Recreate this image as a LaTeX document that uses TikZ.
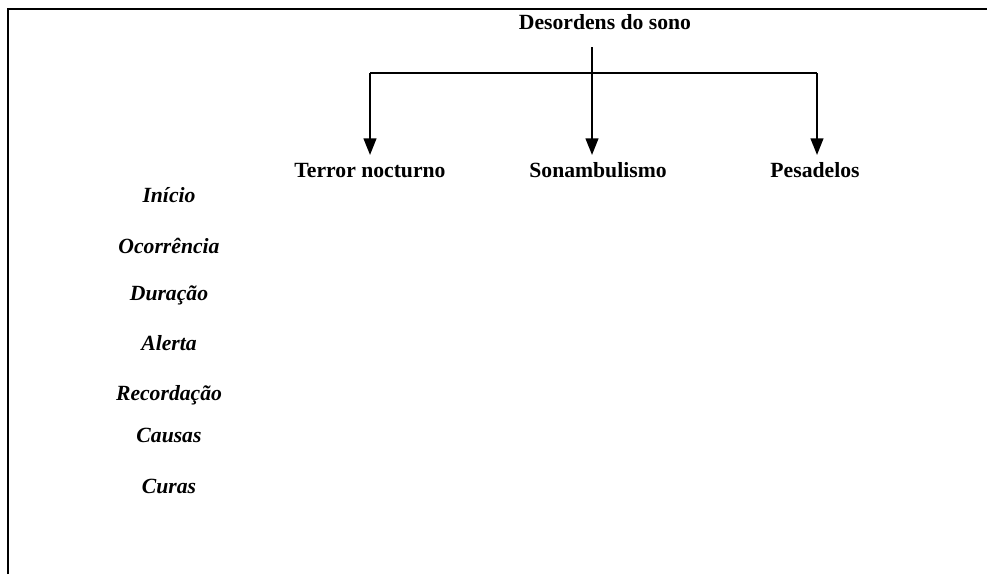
\documentclass[tikz,border=0pt]{standalone}
\usepackage{fontspec}
\setmainfont{Liberation Serif}
\usetikzlibrary{arrows.meta}
\begin{document}
\begin{tikzpicture}[x=0.6pt,y=-0.6pt,
  frame/.style={line width=1.4pt},
  link/.style={line width=1.3pt},
  arr/.style={link,-{Triangle[width=7.6pt,length=10pt]}},
  head/.style={font=\fontsize{13}{15}\selectfont\bfseries,anchor=base,inner sep=0pt},
  rowlabel/.style={font=\fontsize{13}{15}\selectfont\bfseries\itshape,anchor=base,inner sep=0pt}]
  \useasboundingbox (0,0) rectangle (987,574);
  % open frame: top and left edges only
  \draw[frame] (8,574) -- (8,9) -- (987,9);

  % title and the three categories
  \node[head] (title) at (605,29) {Desordens do sono};
  \node[head] (terror) at (370,177) {Terror nocturno};
  \node[head] (sonamb) at (598,177) {Sonambulismo};
  \node[head] (pesad) at (815,177) {Pesadelos};

  % branching connectors
  \coordinate (stem) at (592,47);
  \coordinate (barL) at (370,73);
  \coordinate (barR) at (817,73);
  \coordinate (tips) at (0,155);
  \draw[link] (barL) -- (barR);
  \draw[arr] (stem) -- (stem |- tips);
  \draw[arr] (barL) -- (barL |- tips);
  \draw[arr] (barR) -- (barR |- tips);

  % row headings
  \node[rowlabel] (inicio) at (169,202) {Início};
  \node[rowlabel] (ocorr) at (169,253) {Ocorrência};
  \node[rowlabel] (durac) at (169,300) {Duração};
  \node[rowlabel] (alerta) at (169,350) {Alerta};
  \node[rowlabel] (recor) at (169,400) {Recordação};
  \node[rowlabel] (causas) at (169,442) {Causas};
  \node[rowlabel] (curas) at (169,493) {Curas};
\end{tikzpicture}
\end{document}
